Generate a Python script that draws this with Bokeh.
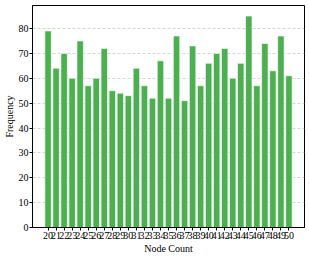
from bokeh.plotting import figure
from bokeh.models import FixedTicker, Range1d, ColumnDataSource
from bokeh.embed import file_html
from bokeh.resources import INLINE

node_counts = list(range(20, 51))
frequencies = [79, 64, 70, 60, 75, 57, 60, 72, 55, 54, 53, 64, 57, 52, 67, 52,
               77, 51, 73, 57, 66, 70, 72, 60, 66, 85, 57, 74, 63, 77, 61]
y_ticks = [0, 10, 20, 30, 40, 50, 60, 70, 80]

pos = list(range(len(node_counts)))
src = ColumnDataSource(dict(x=pos, top=frequencies))

n = len(pos)
margin = 0.05 * (n - 1 + 0.8)
p = figure(width=309, height=256, output_backend="svg", toolbar_location=None,
           x_range=Range1d(-0.4 - margin, n - 1 + 0.4 + margin),
           y_range=Range1d(0, max(frequencies) * 1.05),
           min_border_left=30, min_border_right=5, min_border_top=5, min_border_bottom=29)

p.vbar(x="x", top="top", width=0.8, source=src, fill_color="#4CAF50",
       line_color="white", line_alpha=0.6, line_width=1)

font = "Liberation Serif"
p.xaxis.ticker = FixedTicker(ticks=pos)
p.xaxis.major_label_overrides = {i: str(v) for i, v in zip(pos, node_counts)}
p.yaxis.ticker = FixedTicker(ticks=y_ticks)
for ax in (p.xaxis, p.yaxis):
    ax.major_label_text_font = font
    ax.major_label_text_font_size = "10px"
    ax.major_label_text_color = "black"
    ax.axis_label_text_font = font
    ax.axis_label_text_font_size = "10px"
    ax.axis_label_text_font_style = "normal"
    ax.axis_label_text_color = "black"
    ax.axis_line_color = "black"
    ax.major_tick_line_color = "black"
    ax.major_tick_in = 0
    ax.major_tick_out = 3
    ax.minor_tick_line_color = None
    ax.major_label_standoff = 1
    ax.axis_label_standoff = 1
p.xaxis.axis_label = "Node Count"
p.yaxis.axis_label = "Frequency"

p.xgrid.grid_line_color = None
p.ygrid.grid_line_color = "#cccccc"
p.ygrid.grid_line_dash = "3 2"
p.ygrid.grid_line_alpha = 0.8
p.outline_line_color = "black"
p.outline_line_alpha = 1
p.background_fill_color = "white"
p.border_fill_color = "white"

open("out.html", "w").write(file_html(p, INLINE))
